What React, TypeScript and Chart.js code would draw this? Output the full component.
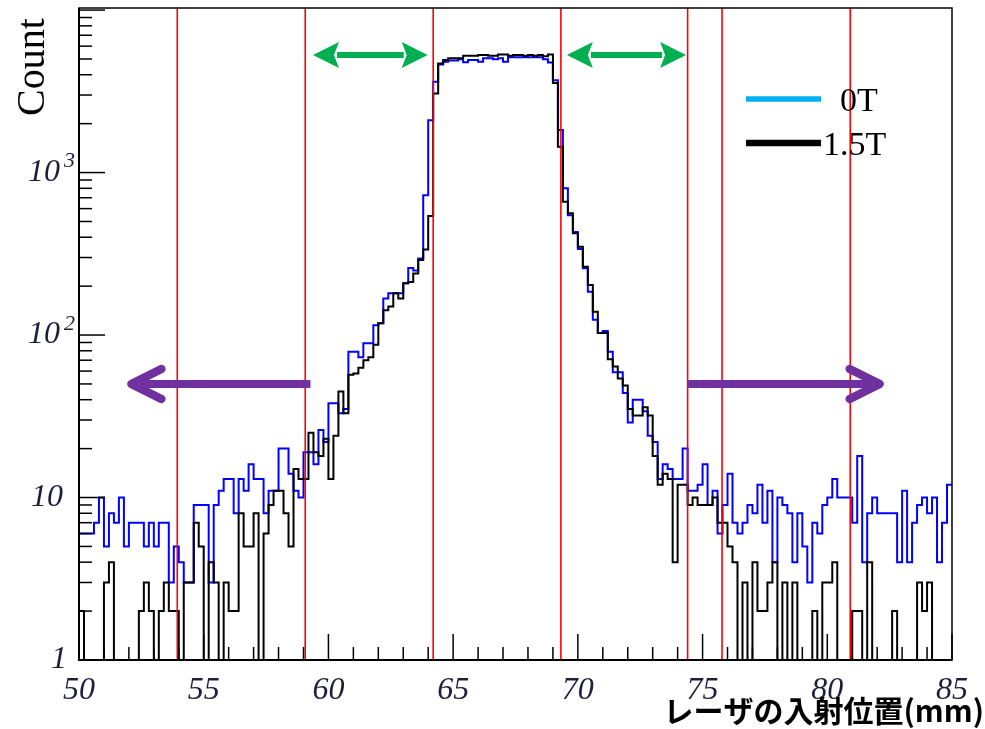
import React, { useEffect, useRef } from 'react';
import { Chart, registerables } from 'chart.js';

Chart.register(...registerables);

// ---- data ----
const X_MIN = 50;
const X_MAX = 85;
const BIN_WIDTH = 0.2; // mm
const Y_MIN = 1;
const Y_MAX = 10300;

// counts per 0.2 mm bin, 50.0 .. 85.0 mm (175 bins)
const counts0T = [
  6, 6, 6, 7, 10, 5, 8, 7, 10, 5,
  7, 7, 7, 5, 7, 5, 7, 7, 3, 5,
  4, 3, 3, 9, 9, 9, 3, 9, 11, 13,
  13, 8, 13, 11, 16, 13, 13, 8, 11, 11,
  20, 20, 14, 11, 10, 19, 19, 16, 26, 22,
  38, 38, 33, 35, 79, 79, 73, 89, 89, 115,
  118, 168, 181, 181, 181, 208, 259, 250, 296, 725,
  2100, 3620, 4630, 4810, 4890, 4890, 4980, 4770, 4930, 4930,
  4810, 5050, 5050, 4980, 5050, 4810, 5120, 5120, 5120, 5120,
  5120, 5120, 5120, 4980, 4750, 3700, 1830, 800, 547, 430,
  338, 258, 185, 124, 103, 106, 79, 59, 59, 44,
  29, 40, 40, 34, 24, 22, 13, 16, 15, 13,
  13, 20, 11, 11, 12, 16, 9, 11, 6, 9,
  14, 7, 6, 7, 9, 8, 12, 7, 11, 4,
  10, 9, 8, 4, 8, 5, 3, 7, 6, 9,
  10, 13, 10, 10, 10, 7, 18, 4, 8, 10,
  8, 8, 8, 8, 4, 11, 4, 7, 9, 10,
  8, 10, 4, 7, 12,
];

const counts15T = [
  2, 1, 1, 1, 1, 3, 4, 1, 1, 1,
  1, 1, 2, 3, 2, 1, 2, 3, 2, 2,
  1, 3, 3, 7, 5, 1, 4, 3, 1, 3,
  2, 2, 8, 5, 5, 8, 1, 6, 9, 11,
  11, 8, 5, 15, 13, 13, 25, 19, 18, 23,
  13, 24, 45, 33, 57, 58, 63, 70, 73, 87,
  118, 142, 150, 181, 168, 208, 212, 239, 290, 336,
  540, 3070, 4690, 4930, 5050, 5050, 5050, 5230, 5230, 5230,
  5300, 5300, 5230, 5230, 5335, 5335, 5230, 5300, 5300, 5230,
  5300, 5230, 5300, 5190, 5335, 3560, 1443, 661, 561, 423,
  349, 263, 203, 139, 103, 103, 71, 64, 54, 49,
  35, 32, 32, 36, 32, 18, 12, 14, 13, 4,
  12, 12, 9, 10, 9, 9, 9, 10, 7, 7,
  5, 4, 1, 3, 1, 4, 2, 2, 3, 4,
  1, 3, 1, 3, 1, 1, 1, 2, 1, 3,
  3, 4, 1, 1, 1, 2, 2, 1, 4, 1,
  1, 1, 1, 2, 1, 1, 1, 1, 3, 2,
  3, 1, 1, 1, 1,
];

const seriesLabels = ['0T', '1.5T'];
const xTickStep = 5;
const yLabelExponents = [0, 1, 2, 3];

// annotation positions in data units (mm / counts)
const cutLinesMm = [53.94, 59.07, 64.2, 69.32, 74.4, 75.78, 80.92];
const greenArrowsMm = [[59.38, 63.98], [69.56, 74.34]];
const greenArrowCount = 5300;
const purpleArrowsMm = [[59.28, 52.1], [74.38, 82.1]];
const purpleArrowCount = 50;

const xTitle = 'レーザの入射位置(mm)';
const yTitle = 'Count';

function toSteps(counts: number[]) {
  const pts = counts.map((v, i) => ({ x: X_MIN + i * BIN_WIDTH, y: Math.max(v, Y_MIN) }));
  pts.push({ x: X_MIN + counts.length * BIN_WIDTH, y: Math.max(counts[counts.length - 1], Y_MIN) });
  return pts;
}

const decorPlugin = {
  id: 'decor',
  afterDatasetsDraw(chart: any) {
    const { ctx, chartArea: a, scales } = chart;
    const x = scales.x;
    const y = scales.y;
    ctx.save();

    // red cut lines
    ctx.strokeStyle = '#ff0000';
    ctx.lineWidth = 1.6;
    for (const m of cutLinesMm) {
      const px = x.getPixelForValue(m);
      ctx.beginPath();
      ctx.moveTo(px, a.top);
      ctx.lineTo(px, a.bottom);
      ctx.stroke();
    }

    // frame
    ctx.strokeStyle = '#000';
    ctx.lineWidth = 1.5;
    ctx.strokeRect(a.left, a.top, a.right - a.left, a.bottom - a.top);
    ctx.lineWidth = 2;
    ctx.beginPath();
    ctx.moveTo(a.left, a.top);
    ctx.lineTo(a.left, a.bottom);
    ctx.lineTo(a.right, a.bottom);
    ctx.stroke();

    // y ticks (log)
    ctx.lineWidth = 1.5;
    for (let d = 0; d <= 4; d++) {
      for (let k = 1; k <= 9; k++) {
        const v = k * Math.pow(10, d);
        if (v < Y_MIN || v > Y_MAX) continue;
        const py = y.getPixelForValue(v);
        const len = k === 1 ? 26 : 13;
        ctx.beginPath();
        ctx.moveTo(a.left, py);
        ctx.lineTo(a.left + len, py);
        ctx.stroke();
      }
    }
    // x ticks
    for (let m = X_MIN; m <= X_MAX; m += 1) {
      const px = x.getPixelForValue(m);
      const len = m % xTickStep === 0 ? 26 : 13;
      ctx.beginPath();
      ctx.moveTo(px, a.bottom);
      ctx.lineTo(px, a.bottom - len);
      ctx.stroke();
    }

    // green double arrows
    ctx.fillStyle = '#00b050';
    ctx.strokeStyle = '#00b050';
    const gy = y.getPixelForValue(greenArrowCount);
    for (const [m1, m2] of greenArrowsMm) {
      const x1 = x.getPixelForValue(m1);
      const x2 = x.getPixelForValue(m2);
      const hl = 26, hh = 13;
      ctx.lineWidth = 6;
      ctx.beginPath();
      ctx.moveTo(x1 + hl - 2, gy);
      ctx.lineTo(x2 - hl + 2, gy);
      ctx.stroke();
      ctx.beginPath();
      ctx.moveTo(x1, gy);
      ctx.lineTo(x1 + hl, gy - hh);
      ctx.lineTo(x1 + hl - 5, gy);
      ctx.lineTo(x1 + hl, gy + hh);
      ctx.closePath();
      ctx.fill();
      ctx.beginPath();
      ctx.moveTo(x2, gy);
      ctx.lineTo(x2 - hl, gy - hh);
      ctx.lineTo(x2 - hl + 5, gy);
      ctx.lineTo(x2 - hl, gy + hh);
      ctx.closePath();
      ctx.fill();
    }

    // purple arrows
    ctx.strokeStyle = '#7030a0';
    ctx.lineJoin = 'round';
    const py = y.getPixelForValue(purpleArrowCount);
    for (const [from, to] of purpleArrowsMm) {
      const x1 = x.getPixelForValue(from);
      const x2 = x.getPixelForValue(to);
      const dir = x2 > x1 ? 1 : -1;
      ctx.lineWidth = 8;
      ctx.lineCap = 'butt';
      ctx.beginPath();
      ctx.moveTo(x1, py);
      ctx.lineTo(x2 - dir * 3, py);
      ctx.stroke();
      ctx.lineCap = 'round';
      ctx.lineWidth = 8.5;
      ctx.beginPath();
      ctx.moveTo(x2 - dir * 30, py - 15);
      ctx.lineTo(x2, py);
      ctx.lineTo(x2 - dir * 30, py + 15);
      ctx.stroke();
    }
    ctx.restore();
  },
  afterDraw(chart: any) {
    const { ctx, chartArea: a, scales } = chart;
    const y = scales.y;
    ctx.save();
    // y tick labels
    ctx.fillStyle = '#1e1e3c';
    ctx.textBaseline = 'middle';
    for (const e of yLabelExponents) {
      const py = y.getPixelForValue(Math.pow(10, e));
      ctx.font = 'italic 32px "Liberation Serif"';
      ctx.textAlign = 'right';
      if (e === 0) {
        ctx.fillText('1', a.left - 12, py);
      } else if (e === 1) {
        ctx.fillText('10', a.left - 16, py);
      } else {
        ctx.fillText('10', a.left - 19, py);
        ctx.font = 'italic 22px "Liberation Serif"';
        ctx.textAlign = 'left';
        ctx.fillText(String(e), a.left - 15, py - 11);
      }
    }

    // axis titles
    ctx.fillStyle = '#000';
    ctx.font = '40px "Liberation Serif"';
    ctx.textAlign = 'center';
    ctx.textBaseline = 'alphabetic';
    ctx.translate(44, 67);
    ctx.rotate(-Math.PI / 2);
    ctx.fillText(yTitle, 0, 0);
    ctx.setTransform(1, 0, 0, 1, 0, 0);

    ctx.font = 'bold 30px "Noto Sans CJK JP"';
    ctx.textAlign = 'right';
    ctx.textBaseline = 'middle';
    ctx.fillText(xTitle, 984, 711);

    // legend
    const items = [
      { label: seriesLabels[0], color: '#00b0f0', y: 99, w: 5.5, tx: 840 },
      { label: seriesLabels[1], color: '#000000', y: 143, w: 6.5, tx: 823 },
    ];
    for (const it of items) {
      ctx.strokeStyle = it.color;
      ctx.lineWidth = it.w;
      ctx.beginPath();
      ctx.moveTo(746, it.y);
      ctx.lineTo(821, it.y);
      ctx.stroke();
      ctx.fillStyle = '#000';
      ctx.font = '34px "Liberation Serif"';
      ctx.textAlign = 'left';
      ctx.textBaseline = 'alphabetic';
      ctx.fillText(it.label, it.tx, it.y + 12);
    }
    ctx.restore();
  },
};

export default function App() {
  const ref = useRef<HTMLCanvasElement>(null);
  useEffect(() => {
    if (!ref.current) return;
    const chart = new Chart(ref.current, {
      type: 'line',
      data: {
        datasets: [
          {
            label: seriesLabels[1],
            data: toSteps(counts15T),
            borderColor: '#000000',
            borderWidth: 2,
            stepped: 'before',
            pointRadius: 0,
            fill: false,
          },
          {
            label: seriesLabels[0],
            data: toSteps(counts0T),
            borderColor: '#0000ff',
            borderWidth: 2,
            stepped: 'before',
            pointRadius: 0,
            fill: false,
          },
        ],
      },
      options: {
        animation: false,
        responsive: false,
        devicePixelRatio: 1,
        layout: { padding: { left: 0, top: 8, right: 33, bottom: 0 } },
        plugins: { legend: { display: false }, tooltip: { enabled: false } },
        scales: {
          x: {
            type: 'linear',
            min: X_MIN,
            max: X_MAX,
            grid: { display: false, drawTicks: false },
            border: { display: false },
            ticks: {
              stepSize: xTickStep,
              autoSkip: false,
              maxRotation: 0,
              padding: 11,
              color: '#1e1e3c',
              font: { family: 'Liberation Serif', size: 32, style: 'italic' },
            },
            afterFit: (s: any) => { s.height = 69; },
          },
          y: {
            type: 'logarithmic',
            min: Y_MIN,
            max: Y_MAX,
            grid: { display: false, drawTicks: false },
            border: { display: false },
            ticks: { display: false },
            afterFit: (s: any) => { s.width = 79; },
          },
        },
      } as any,
      plugins: [decorPlugin],
    });
    return () => chart.destroy();
  }, []);
  return (
    <div style={{ position: 'absolute', left: 0, top: 0, width: 985, height: 729, background: '#fff' }}>
      <canvas ref={ref} width={985} height={729} style={{ display: 'block', width: 985, height: 729 }} />
    </div>
  );
}
